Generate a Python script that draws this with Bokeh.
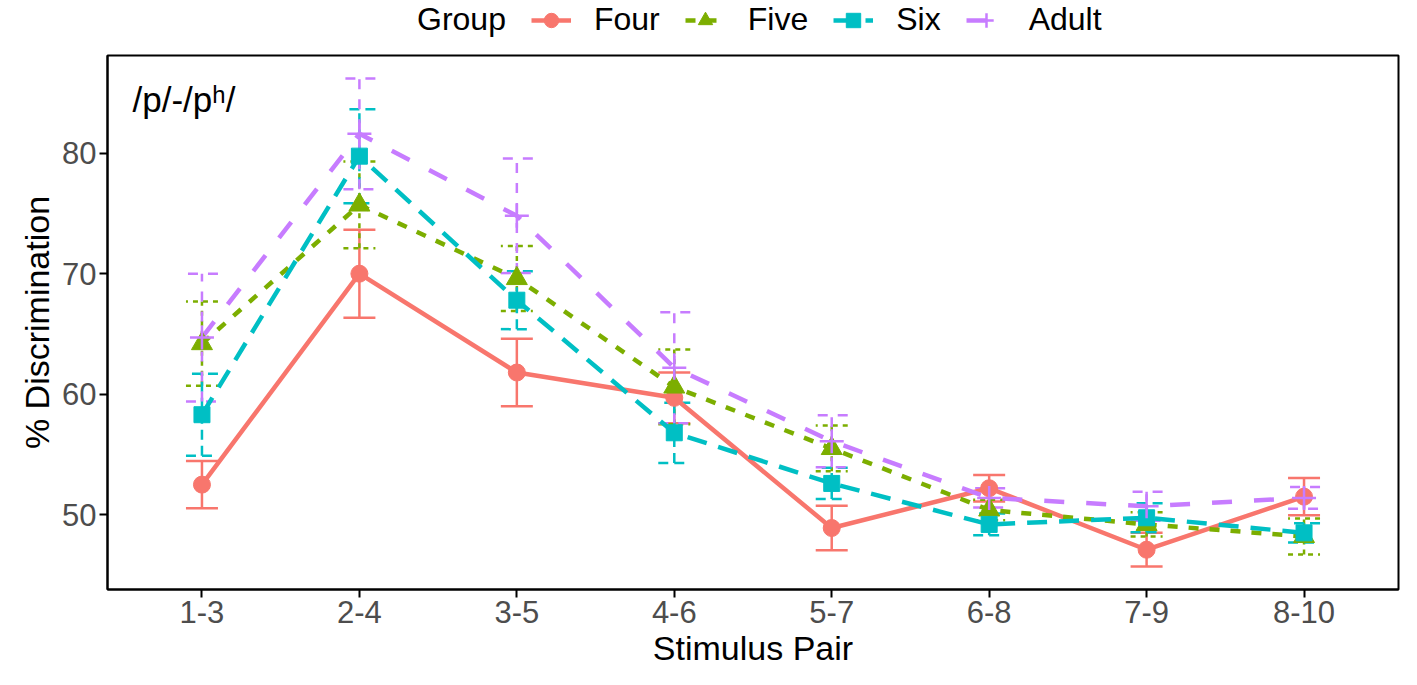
from bokeh.plotting import figure
from bokeh.layouts import column
from bokeh.models import (ColumnDataSource, FactorRange, Range1d, FixedTicker,
                          Whisker, TeeHead, Legend, LegendItem, Label)
from bokeh.embed import file_html
from bokeh.resources import INLINE

# ---------------- data ----------------
categories = ["1-3", "2-4", "3-5", "4-6", "5-7", "6-8", "7-9", "8-10"]
groups = ["Four", "Five", "Six", "Adult"]

four_mean = [52.5, 70.0, 61.8, 59.7, 48.9, 52.2, 47.1, 51.5]
four_err = [1.95, 3.65, 2.8, 2.1, 1.85, 1.1, 1.4, 1.55]

five_mean = [64.2, 75.7, 69.6, 60.6, 55.5, 50.4, 49.2, 48.2]
five_err = [3.5, 3.6, 2.7, 3.1, 1.9, 0.85, 1.0, 1.5]

six_mean = [58.3, 79.75, 67.8, 56.8, 52.6, 49.2, 49.75, 48.5]
six_err = [3.4, 3.9, 2.4, 2.5, 1.3, 0.9, 1.2, 0.8]

adult_mean = [64.7, 81.6, 74.8, 62.2, 56.1, 51.4, 50.7, 51.4]
adult_err = [5.3, 4.6, 4.75, 4.6, 2.15, 0.8, 1.2, 0.9]

y_ticks = [50, 60, 70, 80]
legend_title = "Group"
panel_label = "/p/-/pʰ/"

# ---------------- styles ----------------
FONT = "Liberation Sans"
styles = {
    "Four": dict(color="#F8766D", dash="solid", edash="solid", marker="circle", size=17),
    "Five": dict(color="#7CAE00", dash="10 11", edash="5 5", marker="triangle", size=21),
    "Six": dict(color="#00BFC4", dash="20 12", edash="10 6", marker="square", size=16),
    "Adult": dict(color="#C77CFF", dash="20 22", edash="10 10", marker="cross", size=24),
}
series = {
    "Four": (four_mean, four_err),
    "Five": (five_mean, five_err),
    "Six": (six_mean, six_err),
    "Adult": (adult_mean, adult_err),
}

W = 1401
TOP_H = 54

# ---------------- main plot ----------------
p = figure(
    x_range=FactorRange(factors=categories, range_padding=0.1,
                        range_padding_units="absolute"),
    y_range=Range1d(43.8, 88.1),
    width=W, height=669 - TOP_H,
    output_backend="svg", toolbar_location=None,
    min_border_left=107, min_border_right=3, min_border_top=1, min_border_bottom=0,
)
p.xgrid.visible = False
p.ygrid.visible = False
p.outline_line_color = "black"
p.outline_line_width = 2
p.background_fill_color = "white"

p.yaxis.ticker = FixedTicker(ticks=y_ticks)
p.yaxis.minor_tick_line_color = None
p.xaxis.axis_label = "Stimulus Pair"
p.yaxis.axis_label = "% Discrimination"
for ax in (p.xaxis, p.yaxis):
    ax.axis_line_color = "black"
    ax.axis_line_width = 2
    ax.major_tick_line_color = "black"
    ax.major_tick_line_width = 2
    ax.major_tick_out = 8
    ax.major_tick_in = 0
    ax.major_label_text_font = FONT
    ax.major_label_text_font_size = "31px"
    ax.major_label_text_color = "#4D4D4D"
    ax.major_label_standoff = 3
    ax.axis_label_text_font = FONT
    ax.axis_label_text_font_size = "34px"
    ax.axis_label_text_font_style = "normal"
    ax.axis_label_text_color = "black"
    ax.axis_label_standoff = 3

sources = {}
for g in groups:
    mean, err = series[g]
    st = styles[g]
    src = ColumnDataSource(dict(
        x=categories, y=mean,
        upper=[m + e for m, e in zip(mean, err)],
        lower=[m - e for m, e in zip(mean, err)],
    ))
    sources[g] = src
    p.add_layout(Whisker(
        base="x", upper="upper", lower="lower", source=src, level="underlay",
        line_color=st["color"], line_width=2.5, line_dash=st["edash"],
        upper_head=TeeHead(size=32, line_color=st["color"], line_width=2.5,
                           line_dash=st["edash"]),
        lower_head=TeeHead(size=32, line_color=st["color"], line_width=2.5,
                           line_dash=st["edash"]),
    ))

for g in groups:
    st = styles[g]
    p.line("x", "y", source=sources[g], line_color=st["color"],
           line_width=4.5, line_dash=st["dash"])

for g in groups:
    st = styles[g]
    if st["marker"] == "cross":
        p.scatter("x", "y", source=sources[g], marker="cross", size=st["size"],
                  line_color=st["color"], line_width=2.5)
    else:
        p.scatter("x", "y", source=sources[g], marker=st["marker"], size=st["size"],
                  fill_color=st["color"], line_color=st["color"])

p.add_layout(Label(x=25, y=86.1, x_units="screen", y_units="data",
                   text=panel_label, text_font=FONT, text_font_size="35px",
                   text_color="black", text_baseline="top", text_align="left"))

# ---------------- legend strip (its frame is aligned with the main frame) ----------------
lg = figure(width=W, height=TOP_H, x_range=Range1d(0, W), y_range=Range1d(0, TOP_H),
            x_axis_type=None, y_axis_type=None, output_backend="svg",
            toolbar_location=None, min_border=0, outline_line_color=None)
lg.xgrid.visible = False
lg.ygrid.visible = False

# legend-only renderers: one point placed outside the visible strip
off = dict(x=[-1000], y=[-1000])
title_r = lg.line(line_alpha=0, **off)
items = [LegendItem(label=legend_title, renderers=[title_r])]
for g in groups:
    st = styles[g]
    lr = lg.line(line_color=st["color"], line_width=4.5, line_dash=st["dash"], **off)
    if st["marker"] == "cross":
        sr = lg.scatter(marker="cross", size=st["size"],
                        line_color=st["color"], line_width=2.5, **off)
    else:
        sr = lg.scatter(marker=st["marker"], size=st["size"],
                        fill_color=st["color"], line_color=st["color"], **off)
    items.append(LegendItem(label=g, renderers=[lr, sr]))

legend = Legend(
    items=items, orientation="horizontal", location=(247, 16),
    padding=0, margin=0, spacing=25, label_standoff=23,
    glyph_width=40, glyph_height=36, label_height=30,
    label_text_font=FONT, label_text_font_size="32px", label_text_color="black",
    border_line_alpha=0, background_fill_alpha=0,
)
lg.add_layout(legend, "center")

layout = column(lg, p, spacing=0)
open("out.html", "w").write(file_html(layout, INLINE))
